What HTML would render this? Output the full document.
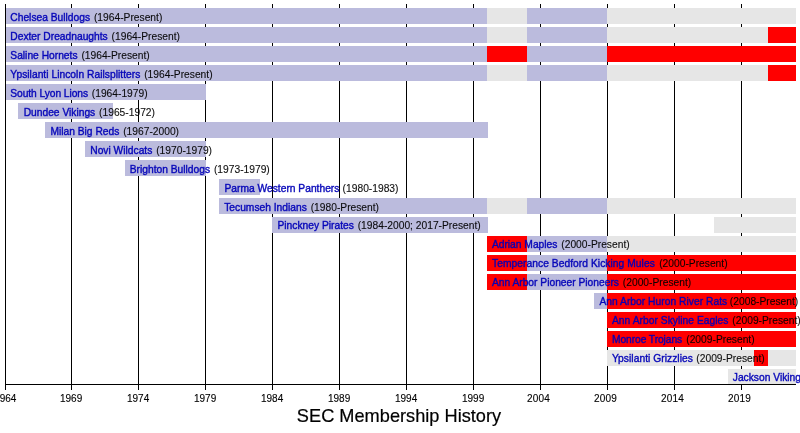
<!DOCTYPE html>
<html lang="en"><head><meta charset="utf-8"><title>SEC Membership History</title>
<style>html,body{margin:0;padding:0;background:#fff}body{width:800px;height:433px;overflow:hidden}svg{display:block}text{font-family:"Liberation Sans",sans-serif}.l{font-size:10.25px;fill:#000}.p{fill-opacity:.94;stroke:#000;stroke-width:.18px;stroke-opacity:.6}.n{fill:#0000b8;stroke:#0000b8;stroke-width:.45px;fill-opacity:.96;stroke-opacity:.8}.a{font-size:10px;fill:#000;stroke:#000;stroke-width:.12px;text-anchor:middle}.t{font-size:18.2px;fill:#000;stroke:#000;stroke-width:.2px;text-anchor:middle}</style></head><body>
<svg width="800" height="433" viewBox="0 0 800 433">
<rect width="800" height="433" fill="#fff"/>
<defs><filter id="b" x="0" y="0" width="800" height="433" filterUnits="userSpaceOnUse"><feGaussianBlur stdDeviation="0.3"/></filter></defs>
<g fill="#000" shape-rendering="crispEdges">
<rect x="71" y="4" width="1" height="386"/>
<rect x="138" y="4" width="1" height="386"/>
<rect x="205" y="4" width="1" height="386"/>
<rect x="272" y="4" width="1" height="386"/>
<rect x="339" y="4" width="1" height="386"/>
<rect x="406" y="4" width="1" height="386"/>
<rect x="473" y="4" width="1" height="386"/>
<rect x="540" y="4" width="1" height="386"/>
<rect x="607" y="4" width="1" height="386"/>
<rect x="674" y="4" width="1" height="386"/>
<rect x="741" y="4" width="1" height="386"/>
</g>
<g shape-rendering="crispEdges">
<rect x="5" y="8" width="483" height="16" fill="#bbbbdd"/>
<rect x="487" y="8" width="41" height="16" fill="#e6e6e6"/>
<rect x="527" y="8" width="81" height="16" fill="#bbbbdd"/>
<rect x="607" y="8" width="189" height="16" fill="#e6e6e6"/>
<rect x="5" y="27" width="483" height="16" fill="#bbbbdd"/>
<rect x="487" y="27" width="41" height="16" fill="#e6e6e6"/>
<rect x="527" y="27" width="81" height="16" fill="#bbbbdd"/>
<rect x="607" y="27" width="162" height="16" fill="#e6e6e6"/>
<rect x="768" y="27" width="28" height="16" fill="#ff0000"/>
<rect x="5" y="46" width="483" height="16" fill="#bbbbdd"/>
<rect x="487" y="46" width="41" height="16" fill="#ff0000"/>
<rect x="527" y="46" width="81" height="16" fill="#bbbbdd"/>
<rect x="607" y="46" width="189" height="16" fill="#ff0000"/>
<rect x="5" y="65" width="483" height="16" fill="#bbbbdd"/>
<rect x="487" y="65" width="41" height="16" fill="#e6e6e6"/>
<rect x="527" y="65" width="81" height="16" fill="#bbbbdd"/>
<rect x="607" y="65" width="162" height="16" fill="#e6e6e6"/>
<rect x="768" y="65" width="28" height="16" fill="#ff0000"/>
<rect x="5" y="84" width="201" height="16" fill="#bbbbdd"/>
<rect x="18" y="103" width="95" height="16" fill="#bbbbdd"/>
<rect x="45" y="122" width="443" height="16" fill="#bbbbdd"/>
<rect x="85" y="141" width="121" height="16" fill="#bbbbdd"/>
<rect x="125" y="160" width="81" height="16" fill="#bbbbdd"/>
<rect x="219" y="179" width="41" height="16" fill="#bbbbdd"/>
<rect x="219" y="198" width="269" height="16" fill="#bbbbdd"/>
<rect x="487" y="198" width="41" height="16" fill="#e6e6e6"/>
<rect x="527" y="198" width="81" height="16" fill="#bbbbdd"/>
<rect x="607" y="198" width="189" height="16" fill="#e6e6e6"/>
<rect x="272" y="217" width="216" height="16" fill="#bbbbdd"/>
<rect x="714" y="217" width="82" height="16" fill="#e6e6e6"/>
<rect x="487" y="236" width="41" height="16" fill="#ff0000"/>
<rect x="527" y="236" width="81" height="16" fill="#bbbbdd"/>
<rect x="607" y="236" width="189" height="16" fill="#e6e6e6"/>
<rect x="487" y="255" width="41" height="16" fill="#ff0000"/>
<rect x="527" y="255" width="81" height="16" fill="#bbbbdd"/>
<rect x="607" y="255" width="189" height="16" fill="#ff0000"/>
<rect x="487" y="274" width="41" height="16" fill="#ff0000"/>
<rect x="527" y="274" width="81" height="16" fill="#bbbbdd"/>
<rect x="607" y="274" width="189" height="16" fill="#ff0000"/>
<rect x="594" y="293" width="14" height="16" fill="#bbbbdd"/>
<rect x="607" y="293" width="189" height="16" fill="#ff0000"/>
<rect x="607" y="312" width="189" height="16" fill="#ff0000"/>
<rect x="607" y="331" width="189" height="16" fill="#ff0000"/>
<rect x="607" y="350" width="189" height="16" fill="#e6e6e6"/>
<rect x="754" y="350" width="14" height="16" fill="#ff0000"/>
<rect x="728" y="369" width="68" height="16" fill="#e6e6e6"/>
</g>
<g fill="#000" shape-rendering="crispEdges">
<rect x="5" y="4" width="1" height="386"/>
<rect x="5" y="384" width="791" height="1"/>
</g>
<g filter="url(#b)">
<text class="a" x="5.30" y="402">1964</text>
<text class="a" x="71.10" y="402">1969</text>
<text class="a" x="138.10" y="402">1974</text>
<text class="a" x="205.10" y="402">1979</text>
<text class="a" x="272.10" y="402">1984</text>
<text class="a" x="339.10" y="402">1989</text>
<text class="a" x="406.10" y="402">1994</text>
<text class="a" x="473.10" y="402">1999</text>
<text class="a" x="538.60" y="402" letter-spacing=".2">2004</text>
<text class="a" x="605.60" y="402" letter-spacing=".2">2009</text>
<text class="a" x="672.60" y="402" letter-spacing=".2">2014</text>
<text class="a" x="739.60" y="402" letter-spacing=".2">2019</text>
<text class="t" transform="translate(399,422.2) scale(1,1.045)">SEC Membership History</text>
<text class="l" x="10.30" y="21.00"><tspan class="n">Chelsea Bulldogs</tspan><tspan class="p" dx="1.00"> (1964-Present)</tspan></text>
<text class="l" x="10.30" y="40.00"><tspan class="n">Dexter Dreadnaughts</tspan><tspan class="p" dx="1.00"> (1964-Present)</tspan></text>
<text class="l" x="10.30" y="59.00"><tspan class="n">Saline Hornets</tspan><tspan class="p" dx="1.00"> (1964-Present)</tspan></text>
<text class="l" x="10.30" y="78.00"><tspan class="n" letter-spacing="0.03">Ypsilanti Lincoln Railsplitters</tspan><tspan class="p" dx="1.00"> (1964-Present)</tspan></text>
<text class="l" x="10.30" y="97.00"><tspan class="n" letter-spacing="-0.075">South Lyon Lions</tspan><tspan class="p" dx="1.00"> (1964-1979)</tspan></text>
<text class="l" x="23.64" y="116.00"><tspan class="n">Dundee Vikings</tspan><tspan class="p" dx="1.00"> (1965-1972)</tspan></text>
<text class="l" x="50.42" y="135.00"><tspan class="n">Milan Big Reds</tspan><tspan class="p" dx="1.00"> (1967-2000)</tspan></text>
<text class="l" x="90.25" y="154.00"><tspan class="n">Novi Wildcats</tspan><tspan class="p" dx="1.00"> (1970-1979)</tspan></text>
<text class="l" x="129.75" y="173.00"><tspan class="n">Brighton Bulldogs</tspan><tspan class="p" dx="1.00"> (1973-1979)</tspan></text>
<text class="l" x="224.49" y="192.00"><tspan class="n">Parma Western Panthers</tspan><tspan class="p" dx="0.40"> (1980-1983)</tspan></text>
<text class="l" x="224.20" y="211.00"><tspan class="n">Tecumseh Indians</tspan><tspan class="p" dx="1.00"> (1980-Present)</tspan></text>
<text class="l" x="277.50" y="229.00"><tspan class="n">Pinckney Pirates</tspan><tspan class="p" dx="1.00"> (1984-2000; 2017-Present)</tspan></text>
<text class="l" x="491.90" y="248.00"><tspan class="n">Adrian Maples</tspan><tspan class="p" dx="1.00"> (2000-Present)</tspan></text>
<text class="l" x="492.00" y="267.00"><tspan class="n" letter-spacing="0.05">Temperance Bedford Kicking Mules</tspan><tspan class="p" dx="1.50"> (2000-Present)</tspan></text>
<text class="l" x="491.90" y="286.00"><tspan class="n">Ann Arbor Pioneer Pioneers</tspan><tspan class="p" dx="1.00"> (2000-Present)</tspan></text>
<text class="l" x="599.40" y="305.00"><tspan class="n" letter-spacing="0.03">Ann Arbor Huron River Rats</tspan><tspan class="p" dx="-0.20"> (2008-Present)</tspan></text>
<text class="l" x="612.00" y="324.00"><tspan class="n" letter-spacing="0.035">Ann Arbor Skyline Eagles</tspan><tspan class="p" dx="1.00"> (2009-Present)</tspan></text>
<text class="l" x="612.00" y="343.00"><tspan class="n" letter-spacing="-0.08">Monroe Trojans</tspan><tspan class="p" dx="1.30"> (2009-Present)</tspan></text>
<text class="l" x="612.00" y="362.00"><tspan class="n" letter-spacing="0.04">Ypsilanti Grizzlies</tspan><tspan class="p" dx="0.60"> (2009-Present)</tspan></text>
<text class="l" x="732.80" y="381.00"><tspan class="n">Jackson Vikings</tspan><tspan class="p" dx="1.00"> (2018-Present)</tspan></text>
</g>
</svg></body></html>
